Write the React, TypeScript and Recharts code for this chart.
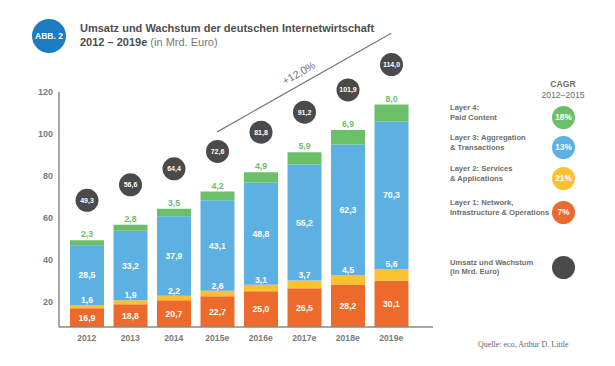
import { BarChart, Bar, XAxis, YAxis, LabelList, ReferenceLine, Legend } from "recharts";

const years = ["2012", "2013", "2014", "2015e", "2016e", "2017e", "2018e", "2019e"];
const layer1 = [16.9, 18.8, 20.7, 22.7, 25.0, 26.5, 28.2, 30.1];
const layer2 = [1.6, 1.9, 2.2, 2.6, 3.1, 3.7, 4.5, 5.6];
const layer3 = [28.5, 33.2, 37.9, 43.1, 48.8, 55.2, 62.3, 70.3];
const layer4 = [2.3, 2.8, 3.5, 4.2, 4.9, 5.9, 6.9, 8.0];
const totals = [49.3, 56.6, 64.4, 72.6, 81.8, 91.2, 101.9, 114.0];

const layerNames = [
  "Layer 1: Network,\nInfrastructure & Operations",
  "Layer 2: Services\n& Applications",
  "Layer 3: Aggregation\n& Transactions",
  "Layer 4:\nPaid Content",
];
const layerCagr = ["7%", "21%", "13%", "18%"];
const totalName = "Umsatz und Wachstum\n(in Mrd. Euro)";

const yTicks = [20, 40, 60, 80, 100, 120];
const yDomain = [8, 120];

const trendLabel = "+12,0%";
const trendStart = { x: "2015e", y: 101 };
const trendEnd = { x: "2019e", y: 148 };

const COLORS = ["#ec6a2b", "#fbc12e", "#5cb1e2", "#6bbf69"];
const DARK = "#4a4a4a";
const AXIS = "#8a8a8a";
const FONT = "'Liberation Sans', Arial, sans-serif";

const W = 615;
const H = 366;
const MARGIN = { top: 92, right: 182, bottom: 9, left: 20 };
const XAXIS_H = 30;
const PLOT_BOTTOM = H - MARGIN.bottom - XAXIS_H;

const data = years.map((year, i) => ({
  year,
  l1: layer1[i],
  l2: layer2[i],
  l3: layer3[i],
  l4: layer4[i],
  total: totals[i],
}));

const fmt = (v: number) => Number(v).toFixed(1).replace(".", ",");

const box = (props: any) => props.viewBox ?? props;

// orange: centered in the visible part (bars are cut at the axis)
const BottomLabel = (props: any) => {
  const { x, y, width, height } = box(props);
  const bottom = Math.min(y + height, PLOT_BOTTOM);
  return (
    <text x={x + width / 2} y={(y + bottom) / 2} dy="0.35em" textAnchor="middle"
      fill="#fff" fontSize={8.7} fontWeight="bold" fontFamily={FONT}>
      {fmt(props.value)}
    </text>
  );
};

const AboveWhiteLabel = (props: any) => {
  const { x, y, width } = box(props);
  return (
    <text x={x + width / 2} y={y - 5} dy="0.35em" textAnchor="middle"
      fill="#fff" fontSize={8.7} fontWeight="bold" fontFamily={FONT}>
      {fmt(props.value)}
    </text>
  );
};

const CenterLabel = (props: any) => {
  const { x, y, width, height } = box(props);
  return (
    <text x={x + width / 2} y={y + height / 2} dy="0.35em" textAnchor="middle"
      fill="#fff" fontSize={8.7} fontWeight="bold" fontFamily={FONT}>
      {fmt(props.value)}
    </text>
  );
};

const GreenLabel = (props: any) => {
  const { x, y, width } = box(props);
  return (
    <text x={x + width / 2} y={y - 6} dy="0.35em" textAnchor="middle"
      fill={COLORS[3]} fontSize={8.7} fontWeight="bold" fontFamily={FONT}>
      {fmt(props.value)}
    </text>
  );
};

const TotalBubble = (props: any) => {
  const { x, y, width } = box(props);
  const cx = x + width / 2;
  const cy = y - 40;
  return (
    <g>
      <circle cx={cx} cy={cy} r={11.5} fill={DARK} />
      <text x={cx} y={cy} dy="0.35em" textAnchor="middle" fill="#fff"
        fontSize={7} fontWeight="bold" fontFamily={FONT}>
        {fmt(props.value)}
      </text>
    </g>
  );
};

const TrendLabel = (props: any) => {
  const vb = props.viewBox || {};
  const cx = vb.x + vb.width / 2;
  const cy = vb.y + vb.height / 2;
  const a = Math.atan2(-vb.height, vb.width);
  const tx = cx + Math.sin(a) * 11;
  const ty = cy - Math.cos(a) * 11;
  return (
    <text x={tx} y={ty} dy="0.35em" textAnchor="middle" fill="#6f6f6f" fontSize={10.5}
      fontFamily={FONT} transform={`rotate(${(a * 180) / Math.PI} ${tx} ${ty})`}>
      {trendLabel}
    </text>
  );
};

const legendText: React.CSSProperties = {
  position: "absolute",
  left: 10,
  fontSize: 7.6,
  lineHeight: "9.5px",
  fontWeight: "bold",
  color: "#6e6e6e",
  whiteSpace: "pre-line",
};

const bubble = (cy: number, color: string, label: string) => (
  <div style={{
    position: "absolute", left: 112, top: cy - 11.5, width: 23, height: 23, borderRadius: "50%",
    background: color, color: "#fff", fontSize: 8.2, fontWeight: "bold",
    display: "flex", alignItems: "center", justifyContent: "center",
  }}>{label}</div>
);

const rowY = [47, 77, 108, 142];

const LegendContent = (props: any) => {
  const items = [...(props.payload || [])].reverse();
  return (
    <div style={{ position: "relative", width: 175, height: 215, fontFamily: FONT }}>
      <div style={{ position: "absolute", left: 90, width: 66, top: 9, textAlign: "center",
        fontSize: 8.6, lineHeight: "10.5px", color: "#6e6e6e" }}>
        <div style={{ fontWeight: "bold" }}>CAGR</div>
        <div>2012–2015</div>
      </div>
      {items.map((p: any, i: number) => {
        const idx = 3 - i;
        return (
          <div key={p.value}>
            <div style={{ ...legendText, top: rowY[i] - 14 }}>{p.value}</div>
            {bubble(rowY[i], p.color, layerCagr[idx])}
          </div>
        );
      })}
      <div style={{ ...legendText, top: 197 - 9.5 }}>{totalName}</div>
      {bubble(197, DARK, "")}
    </div>
  );
};

export default function App() {
  return (
    <div style={{ position: "absolute", left: 0, top: 0, width: W, height: H, background: "#fff", fontFamily: FONT }}>
      <div style={{
        position: "absolute", left: 32, top: 19, width: 34, height: 34, borderRadius: "50%",
        background: "#1b7cc3", color: "#fff", fontSize: 8.5, fontWeight: "bold",
        display: "flex", alignItems: "center", justifyContent: "center",
      }}>ABB. 2</div>
      <div style={{ position: "absolute", left: 80, top: 21, fontSize: 11, lineHeight: "14px", color: "#4d4d4d", fontWeight: "bold" }}>
        <div>Umsatz und Wachstum der deutschen Internetwirtschaft</div>
        <div>2012 – 2019e <span style={{ fontWeight: "normal", color: "#777" }}>(in Mrd. Euro)</span></div>
      </div>
      <BarChart width={W} height={H} data={data} margin={MARGIN} barSize={34}>
        <XAxis dataKey="year" height={XAXIS_H} padding={{ left: 6, right: 20 }}
          axisLine={{ stroke: AXIS, strokeWidth: 1.5 }} tickLine={false} tickSize={0} tickMargin={8}
          tick={{ fill: "#7a7a7a", fontSize: 8.6, fontWeight: "bold", fontFamily: FONT }} />
        <YAxis type="number" width={39} domain={yDomain} ticks={yTicks} allowDataOverflow
          axisLine={{ stroke: AXIS, strokeWidth: 1.5 }} tickLine={false} tickSize={0} tickMargin={6}
          tick={{ fill: "#7a7a7a", fontSize: 9, fontWeight: "bold", fontFamily: FONT }} />
        <Legend layout="vertical" align="center" verticalAlign="middle" content={<LegendContent />}
          wrapperStyle={{ position: "absolute", left: 440, top: 70, width: 175, height: 215 }} />
        <Bar dataKey="l1" name={layerNames[0]} stackId="a" fill={COLORS[0]} isAnimationActive={false}>
          <LabelList dataKey="l1" content={<BottomLabel />} />
        </Bar>
        <Bar dataKey="l2" name={layerNames[1]} stackId="a" fill={COLORS[1]} isAnimationActive={false}>
          <LabelList dataKey="l2" content={<AboveWhiteLabel />} />
        </Bar>
        <Bar dataKey="l3" name={layerNames[2]} stackId="a" fill={COLORS[2]} isAnimationActive={false}>
          <LabelList dataKey="l3" content={<CenterLabel />} />
        </Bar>
        <Bar dataKey="l4" name={layerNames[3]} stackId="a" fill={COLORS[3]} isAnimationActive={false}>
          <LabelList dataKey="l4" content={<GreenLabel />} />
          <LabelList dataKey="total" content={<TotalBubble />} />
        </Bar>
        <ReferenceLine segment={[trendStart, trendEnd]} ifOverflow="visible" stroke="#7a7a7a"
          strokeWidth={1.2} label={<TrendLabel />} />
      </BarChart>
      <div style={{ position: "absolute", left: 478, top: 340, fontSize: 8, color: "#666",
        fontFamily: "'Liberation Serif', 'Times New Roman', serif" }}>
        Quelle: eco, Arthur D. Little
      </div>
    </div>
  );
}
